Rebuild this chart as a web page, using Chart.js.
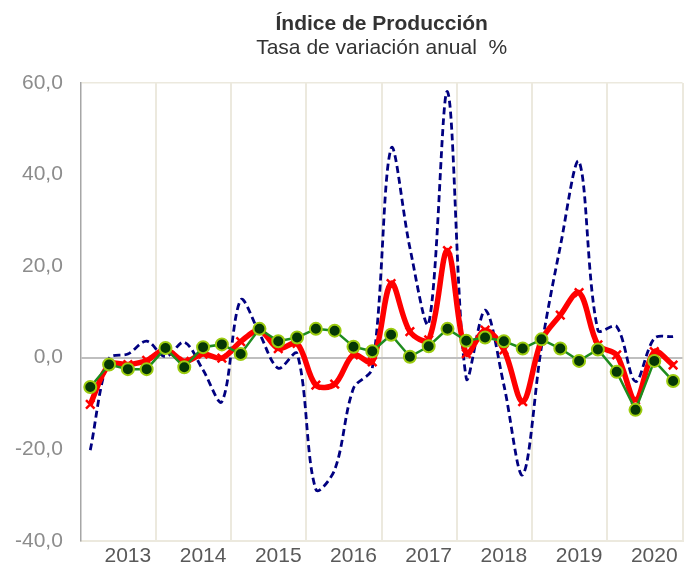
<!DOCTYPE html>
<html>
<head>
<meta charset="utf-8">
<title>Índice de Producción</title>
<script src="https://cdn.jsdelivr.net/npm/chart.js@4.4.0/dist/chart.umd.min.js"></script>
<style>
  html, body { margin: 0; padding: 0; background: #fff; }
  #chart { display: block; }
</style>
</head>
<body>
<canvas id="chart" width="691" height="569"></canvas>
<script>
// años y trimestres (datos trimestrales 2013T1 - 2020T4)
const years = [2013, 2014, 2015, 2016, 2017, 2018, 2019, 2020];
const quarters = [1, 2, 3, 4];
const yTicks = [-40, -20, 0, 20, 40, 60];

// serie azul discontinua
const serieAzul = [
  -20.2, -0.2, 0.8, 3.6, 0.2, 3.4, -2.7, -9.6,
  12.6, 5.3, -2.3, 0.9, -28.8, -24.5, -6.7, -2.3,
  45.7, 24.0, 7.5, 58.1, -4.5, 10.4, -6.0, -25.6,
  2.4, 24.3, 42.8, 6.0, 6.8, -5.2, 4.2, 4.6
];
// serie roja gruesa
const serieRoja = [
  -10.2, -1.5, -1.5, -0.6, 1.8, -0.8, 0.8, -0.1,
  3.5, 6.0, 2.0, 3.1, -6.0, -5.8, 0.6, -0.9,
  16.2, 5.7, 3.9, 23.4, 0.9, 6.0, 1.7, -9.6,
  3.8, 9.3, 14.2, 2.8, 0.6, -9.2, 1.3, -1.6
];
// serie verde con círculos
const serieVerde = [
  -6.4, -1.5, -2.5, -2.5, 2.1, -2.1, 2.3, 2.9,
  0.8, 6.3, 3.6, 4.4, 6.3, 5.9, 2.4, 1.4,
  5.0, 0.2, 2.5, 6.3, 3.7, 4.4, 3.6, 2.0,
  4.0, 2.0, -0.7, 1.8, -3.1, -11.4, -0.7, -5.1
];

// posición de cada trimestre en el eje (centro del trimestre)
const periodos = [];
years.forEach(y => quarters.forEach(q => periodos.push(y + (q - 0.5) / 4)));
const toPoints = arr => arr.map((v, i) => ({ x: periodos[i], y: v }));

const FONT = "'Liberation Sans', Arial, sans-serif";
const BEIGE = '#ece9de';
const NONE = 'rgba(0,0,0,0)';

new Chart(document.getElementById('chart'), {
  type: 'line',
  data: {
    datasets: [
      {
        data: toPoints(serieVerde),
        borderColor: '#1e8c1e',
        borderWidth: 2.5,
        tension: 0,
        pointStyle: 'circle',
        pointRadius: 6,
        pointBackgroundColor: '#053805',
        pointBorderColor: '#9ccc10',
        pointBorderWidth: 2
      },
      {
        data: toPoints(serieRoja),
        borderColor: '#ff0000',
        borderWidth: 5.5,
        tension: 0.33,
        pointStyle: 'crossRot',
        pointRadius: 6,
        pointBorderColor: '#ff0000',
        pointBackgroundColor: '#ff0000',
        pointBorderWidth: 2.5
      },
      {
        data: toPoints(serieAzul),
        borderColor: '#000080',
        borderWidth: 2.8,
        borderDash: [7, 4],
        tension: 0.33,
        pointRadius: 0
      }
    ]
  },
  options: {
    responsive: false,
    animation: false,
    devicePixelRatio: 1,
    layout: { padding: { left: 3, right: 8, top: 0, bottom: 0 } },
    plugins: {
      legend: { display: false },
      tooltip: { enabled: false },
      title: {
        display: true,
        fullSize: false,
        text: 'Índice de Producción',
        color: '#333333',
        font: { family: FONT, size: 21, weight: 'bold', lineHeight: 1.15 },
        padding: { top: 12, bottom: 0 }
      },
      subtitle: {
        display: true,
        fullSize: false,
        text: 'Tasa de variación anual  %',
        color: '#333333',
        font: { family: FONT, size: 21, weight: 'normal', lineHeight: 1.15 },
        padding: { top: 0, bottom: 22.7 }
      }
    },
    scales: {
      x: {
        type: 'linear',
        min: years[0],
        max: years[years.length - 1] + 1,
        grid: {
          drawTicks: true,
          tickLength: 3,
          tickColor: NONE,
          lineWidth: 2,
          color: ctx => ctx.tick && ctx.tick.value === years[0] ? NONE : BEIGE
        },
        border: { color: BEIGE, width: 2 },
        ticks: {
          stepSize: 1,
          autoSkip: false,
          maxRotation: 0,
          labelOffset: 47,
          padding: 0,
          color: '#595959',
          font: { family: FONT, size: 21 },
          callback: v => (years.includes(v) ? String(v) : '')
        }
      },
      y: {
        min: yTicks[0],
        max: yTicks[yTicks.length - 1],
        afterBuildTicks: axis => { axis.ticks = yTicks.map(v => ({ value: v })); },
        grid: {
          drawTicks: true,
          tickLength: 6,
          tickColor: NONE,
          color: ctx => {
            if (ctx.tick.value === 0) return '#bfbfbf';
            if (ctx.tick.value === 60) return BEIGE;
            return NONE;
          },
          lineWidth: ctx => (ctx.tick.value === 0 ? 2 : 1.5)
        },
        border: { color: '#a6a6a6', width: 1.5 },
        ticks: {
          padding: 12,
          color: '#8c8c8c',
          font: { family: FONT, size: 21 },
          callback: v => v.toFixed(1).replace('.', ',')
        }
      }
    }
  }
});
</script>
</body>
</html>
